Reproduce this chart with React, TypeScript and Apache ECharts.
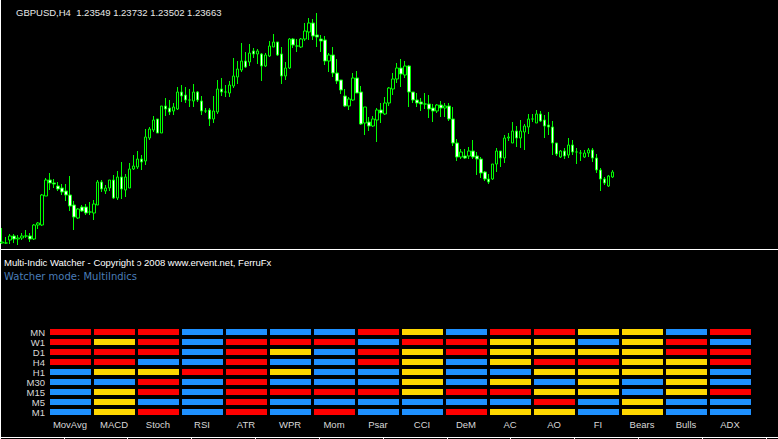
import React, { useEffect, useRef } from 'react';
import * as echarts from 'echarts';

// GBPUSD H4 candles (oldest -> newest)
const openPrices = [
  1.2153, 1.2153, 1.2162, 1.2174, 1.2165, 1.2168, 1.2174, 1.2174, 1.2165, 1.2207,
  1.2207, 1.2294, 1.2342, 1.2333, 1.2324, 1.2318, 1.2309, 1.2297, 1.2267, 1.2228,
  1.2261, 1.2261, 1.2246, 1.2243, 1.2267, 1.2336, 1.2309, 1.2318, 1.2342, 1.2288,
  1.2351, 1.2312, 1.2318, 1.2375, 1.2381, 1.2405, 1.2399, 1.2468, 1.2492, 1.2525,
  1.2483, 1.2564, 1.2558, 1.2549, 1.2555, 1.2606, 1.2597, 1.2582, 1.2579, 1.2606,
  1.2579, 1.2549, 1.2552, 1.2525, 1.2546, 1.2615, 1.2606, 1.2603, 1.2624, 1.2651,
  1.2672, 1.2699, 1.2696, 1.2729, 1.2720, 1.2720, 1.2684, 1.2714, 1.2741, 1.2756,
  1.2720, 1.2654, 1.2678, 1.2765, 1.2744, 1.2741, 1.2765, 1.2786, 1.2813, 1.2777,
  1.2765, 1.2762, 1.2699, 1.2717, 1.2663, 1.2642, 1.2594, 1.2564, 1.2582, 1.2648,
  1.2606, 1.2513, 1.2516, 1.2504, 1.2522, 1.2552, 1.2540, 1.2573, 1.2615, 1.2645,
  1.2678, 1.2657, 1.2684, 1.2606, 1.2582, 1.2576, 1.2570, 1.2570, 1.2558, 1.2549,
  1.2567, 1.2558, 1.2564, 1.2525, 1.2453, 1.2411, 1.2414, 1.2414, 1.2429, 1.2414,
  1.2405, 1.2366, 1.2345, 1.2345, 1.2390, 1.2429, 1.2408, 1.2468, 1.2453, 1.2489,
  1.2468, 1.2486, 1.2501, 1.2525, 1.2513, 1.2540, 1.2522, 1.2507, 1.2501, 1.2453,
  1.2411, 1.2429, 1.2417, 1.2447, 1.2426, 1.2423, 1.2411, 1.2423, 1.2432, 1.2408,
  1.2372, 1.2345, 1.2324, 1.2351,
];
const closePrices = [
  1.2156, 1.2153, 1.2174, 1.2165, 1.2168, 1.2174, 1.2174, 1.2165, 1.2207, 1.2213,
  1.2297, 1.2342, 1.2333, 1.2330, 1.2315, 1.2306, 1.2297, 1.2264, 1.2231, 1.2255,
  1.2249, 1.2243, 1.2246, 1.2270, 1.2336, 1.2315, 1.2318, 1.2342, 1.2288, 1.2351,
  1.2315, 1.2351, 1.2375, 1.2384, 1.2405, 1.2396, 1.2471, 1.2495, 1.2522, 1.2483,
  1.2564, 1.2555, 1.2546, 1.2561, 1.2606, 1.2594, 1.2582, 1.2582, 1.2606, 1.2582,
  1.2549, 1.2549, 1.2525, 1.2549, 1.2615, 1.2606, 1.2606, 1.2627, 1.2654, 1.2675,
  1.2699, 1.2681, 1.2723, 1.2720, 1.2729, 1.2684, 1.2717, 1.2744, 1.2756, 1.2717,
  1.2654, 1.2678, 1.2765, 1.2747, 1.2744, 1.2765, 1.2789, 1.2813, 1.2774, 1.2771,
  1.2759, 1.2699, 1.2717, 1.2663, 1.2639, 1.2612, 1.2564, 1.2585, 1.2648, 1.2603,
  1.2510, 1.2561, 1.2504, 1.2525, 1.2552, 1.2543, 1.2573, 1.2618, 1.2645, 1.2678,
  1.2660, 1.2684, 1.2606, 1.2582, 1.2573, 1.2570, 1.2570, 1.2555, 1.2549, 1.2567,
  1.2558, 1.2564, 1.2525, 1.2453, 1.2411, 1.2426, 1.2408, 1.2429, 1.2411, 1.2405,
  1.2363, 1.2345, 1.2336, 1.2390, 1.2429, 1.2408, 1.2468, 1.2471, 1.2489, 1.2468,
  1.2489, 1.2504, 1.2525, 1.2525, 1.2540, 1.2519, 1.2504, 1.2501, 1.2453, 1.2420,
  1.2429, 1.2414, 1.2447, 1.2426, 1.2426, 1.2423, 1.2423, 1.2432, 1.2408, 1.2372,
  1.2345, 1.2333, 1.2354, 1.2366,
];
const lowPrices = [
  1.2150, 1.2150, 1.2150, 1.2153, 1.2147, 1.2162, 1.2168, 1.2156, 1.2162, 1.2195,
  1.2204, 1.2294, 1.2312, 1.2318, 1.2309, 1.2297, 1.2279, 1.2249, 1.2192, 1.2225,
  1.2246, 1.2237, 1.2237, 1.2222, 1.2267, 1.2306, 1.2300, 1.2309, 1.2285, 1.2282,
  1.2285, 1.2291, 1.2318, 1.2372, 1.2375, 1.2372, 1.2387, 1.2462, 1.2486, 1.2483,
  1.2483, 1.2534, 1.2537, 1.2537, 1.2552, 1.2576, 1.2573, 1.2561, 1.2561, 1.2576,
  1.2537, 1.2543, 1.2504, 1.2513, 1.2540, 1.2594, 1.2591, 1.2591, 1.2618, 1.2630,
  1.2666, 1.2678, 1.2684, 1.2708, 1.2690, 1.2639, 1.2681, 1.2711, 1.2741, 1.2714,
  1.2630, 1.2642, 1.2675, 1.2738, 1.2726, 1.2738, 1.2759, 1.2762, 1.2762, 1.2741,
  1.2726, 1.2687, 1.2666, 1.2651, 1.2630, 1.2600, 1.2561, 1.2552, 1.2579, 1.2603,
  1.2507, 1.2477, 1.2489, 1.2501, 1.2456, 1.2513, 1.2537, 1.2564, 1.2597, 1.2633,
  1.2621, 1.2648, 1.2561, 1.2573, 1.2561, 1.2549, 1.2555, 1.2528, 1.2516, 1.2543,
  1.2531, 1.2531, 1.2519, 1.2444, 1.2399, 1.2405, 1.2405, 1.2405, 1.2405, 1.2357,
  1.2348, 1.2339, 1.2330, 1.2342, 1.2366, 1.2381, 1.2393, 1.2459, 1.2453, 1.2441,
  1.2438, 1.2432, 1.2480, 1.2516, 1.2513, 1.2516, 1.2468, 1.2477, 1.2417, 1.2414,
  1.2408, 1.2405, 1.2408, 1.2417, 1.2390, 1.2399, 1.2408, 1.2411, 1.2396, 1.2363,
  1.2309, 1.2327, 1.2321, 1.2348,
];
const highPrices = [
  1.2198, 1.2171, 1.2180, 1.2180, 1.2177, 1.2183, 1.2192, 1.2183, 1.2210, 1.2216,
  1.2300, 1.2348, 1.2363, 1.2345, 1.2336, 1.2330, 1.2330, 1.2354, 1.2279, 1.2258,
  1.2267, 1.2270, 1.2276, 1.2282, 1.2342, 1.2342, 1.2327, 1.2342, 1.2357, 1.2369,
  1.2396, 1.2360, 1.2393, 1.2417, 1.2429, 1.2417, 1.2495, 1.2501, 1.2534, 1.2525,
  1.2564, 1.2588, 1.2582, 1.2573, 1.2621, 1.2627, 1.2621, 1.2615, 1.2630, 1.2609,
  1.2594, 1.2558, 1.2558, 1.2594, 1.2642, 1.2648, 1.2627, 1.2639, 1.2708, 1.2699,
  1.2753, 1.2726, 1.2750, 1.2738, 1.2735, 1.2723, 1.2723, 1.2759, 1.2780, 1.2756,
  1.2741, 1.2696, 1.2768, 1.2768, 1.2765, 1.2768, 1.2813, 1.2828, 1.2825, 1.2843,
  1.2777, 1.2774, 1.2723, 1.2741, 1.2705, 1.2642, 1.2615, 1.2591, 1.2663, 1.2669,
  1.2624, 1.2561, 1.2531, 1.2534, 1.2558, 1.2573, 1.2591, 1.2621, 1.2663, 1.2693,
  1.2705, 1.2699, 1.2687, 1.2606, 1.2603, 1.2588, 1.2603, 1.2597, 1.2570, 1.2570,
  1.2579, 1.2573, 1.2573, 1.2561, 1.2465, 1.2435, 1.2435, 1.2441, 1.2462, 1.2426,
  1.2411, 1.2369, 1.2360, 1.2390, 1.2438, 1.2429, 1.2477, 1.2483, 1.2516, 1.2504,
  1.2522, 1.2510, 1.2540, 1.2540, 1.2552, 1.2549, 1.2537, 1.2546, 1.2519, 1.2453,
  1.2432, 1.2438, 1.2468, 1.2462, 1.2438, 1.2432, 1.2432, 1.2438, 1.2438, 1.2420,
  1.2378, 1.2351, 1.2357, 1.2372,
];
const chartShiftBars = 41; // empty space on the right (chart shift)
const priceMin = 1.2138;
const priceMax = 1.2882;

// Multi-Indic Watcher signals, per indicator, rows MN..M1 (R = red, Y = yellow, B = blue)
const timeframes = ['MN', 'W1', 'D1', 'H4', 'H1', 'M30', 'M15', 'M5', 'M1'];
const indicators = ['MovAvg', 'MACD', 'Stoch', 'RSI', 'ATR', 'WPR', 'Mom', 'Psar', 'CCI', 'DeM', 'AC', 'AO', 'FI', 'Bears', 'Bulls', 'ADX'];
const sigMovAvg = ['R', 'R', 'R', 'R', 'B', 'B', 'B', 'B', 'B'];
const sigMACD = ['R', 'Y', 'R', 'R', 'Y', 'B', 'Y', 'Y', 'Y'];
const sigStoch = ['R', 'R', 'R', 'B', 'Y', 'R', 'R', 'B', 'R'];
const sigRSI = ['B', 'B', 'B', 'B', 'R', 'B', 'B', 'B', 'B'];
const sigATR = ['B', 'R', 'R', 'R', 'R', 'R', 'R', 'R', 'R'];
const sigWPR = ['B', 'R', 'Y', 'B', 'Y', 'B', 'R', 'B', 'B'];
const sigMom = ['B', 'R', 'B', 'B', 'B', 'B', 'R', 'B', 'R'];
const sigPsar = ['R', 'B', 'R', 'R', 'B', 'B', 'R', 'B', 'B'];
const sigCCI = ['Y', 'R', 'Y', 'Y', 'Y', 'Y', 'Y', 'B', 'B'];
const sigDeM = ['B', 'R', 'R', 'B', 'B', 'B', 'R', 'B', 'R'];
const sigAC = ['R', 'Y', 'Y', 'Y', 'B', 'Y', 'R', 'B', 'Y'];
const sigAO = ['R', 'Y', 'Y', 'R', 'Y', 'B', 'Y', 'R', 'Y'];
const sigFI = ['Y', 'B', 'Y', 'R', 'Y', 'Y', 'Y', 'B', 'B'];
const sigBears = ['Y', 'Y', 'Y', 'Y', 'Y', 'B', 'B', 'Y', 'Y'];
const sigBulls = ['B', 'R', 'R', 'Y', 'Y', 'Y', 'Y', 'B', 'B'];
const sigADX = ['R', 'B', 'R', 'R', 'B', 'B', 'R', 'B', 'B'];
const signals = [sigMovAvg, sigMACD, sigStoch, sigRSI, sigATR, sigWPR, sigMom, sigPsar, sigCCI, sigDeM, sigAC, sigAO, sigFI, sigBears, sigBulls, sigADX];
const signalColors: Record<string, string> = { R: '#ff0000', Y: '#ffd700', B: '#1e90ff' };

const titleText = 'GBPUSD,H4  1.23549 1.23732 1.23502 1.23663';
const panelTitle = 'Multi-Indic Watcher - Copyright \u0254 2008 www.ervent.net, FerruFx';
const panelMode = 'Watcher mode: MultiIndics';

export default function App() {
  const ref = useRef<HTMLDivElement>(null);
  useEffect(() => {
    document.body.style.margin = '0';
    document.body.style.background = '#000';
    if (!ref.current) return;
    const chart = echarts.init(ref.current, undefined, { renderer: 'svg' });

    const n = openPrices.length;
    const cats: string[] = [];
    for (let i = 0; i < n + chartShiftBars; i++) cats.push(String(i));
    const candles = openPrices.map((o, i) => [o, closePrices[i], lowPrices[i], highPrices[i]]);

    const cells: any[] = [];
    signals.forEach((col, xi) => {
      col.forEach((code, yi) => {
        cells.push({ value: [xi, yi], itemStyle: { color: signalColors[code] } });
      });
    });

    const option: any = {
      animation: false,
      backgroundColor: '#000000',
      grid: [
        { left: 0, right: 0, top: 0, height: 248 },
        { left: 48, width: 704, top: 327, height: 90 },
        { left: 0, right: 0, top: 436, height: 1.5 },
      ],
      xAxis: [
        { type: 'category', gridIndex: 0, data: cats, show: false },
        {
          type: 'category', gridIndex: 1, data: indicators, position: 'bottom',
          axisLine: { show: false }, axisTick: { show: false },
          axisLabel: { color: '#d8d8d8', fontSize: 9.5, fontFamily: 'Liberation Sans', margin: 2, interval: 0 },
        },
        {
          type: 'category', gridIndex: 2, data: cats, position: 'bottom',
          axisLine: { show: true, lineStyle: { color: '#ffffff', width: 1 } },
          axisTick: { show: true, interval: 15, length: 4, lineStyle: { color: '#ffffff' } },
          axisLabel: { show: false },
        },
      ],
      yAxis: [
        { type: 'value', gridIndex: 0, min: priceMin, max: priceMax, show: false, scale: true },
        {
          type: 'category', gridIndex: 1, data: timeframes, inverse: true,
          axisLine: { show: false }, axisTick: { show: false },
          axisLabel: { color: '#d8d8d8', fontSize: 9.5, fontFamily: 'Liberation Sans', margin: 3, interval: 0 },
        },
        { type: 'value', gridIndex: 2, show: false },
      ],
      series: [
        {
          type: 'candlestick', xAxisIndex: 0, yAxisIndex: 0, data: candles, barWidth: 3,
          itemStyle: { color: '#000000', color0: '#ffffff', borderColor: '#00ff00', borderColor0: '#00ff00', borderWidth: 1 },
        },
        {
          type: 'custom', xAxisIndex: 1, yAxisIndex: 1, data: cells,
          renderItem: (params: any, api: any) => {
            const p = api.coord([api.value(0), api.value(1)]);
            const s = api.size([1, 1]);
            const w = s[0] - 3;
            const h = 6;
            return {
              type: 'rect',
              shape: { x: Math.round(p[0] - w / 2), y: Math.round(p[1] - h / 2), width: w, height: h },
              style: { fill: api.visual('color') },
            };
          },
        },
      ],
      graphic: [
        { type: 'text', left: 16, top: 7, style: { text: titleText, fill: '#e8e8e8', font: '9.5px "Liberation Sans", sans-serif' } },
        { type: 'line', shape: { x1: 0, y1: 249.5, x2: 778, y2: 249.5 }, style: { stroke: '#ffffff', lineWidth: 1 } },
        { type: 'line', shape: { x1: 0.5, y1: 0, x2: 0.5, y2: 439 }, style: { stroke: '#ffffff', lineWidth: 1 } },
        { type: 'text', left: 4, top: 257, style: { text: panelTitle, fill: '#ffffff', font: '9.5px "Liberation Sans", sans-serif' } },
        { type: 'text', left: 4, top: 271, style: { text: panelMode, fill: '#4a7db8', font: '10px "DejaVu Sans", sans-serif' } },
      ],
    };
    chart.setOption(option);
    return () => chart.dispose();
  }, []);
  return <div ref={ref} style={{ position: 'absolute', left: 0, top: 0, width: 778, height: 439, background: '#000' }} />;
}
